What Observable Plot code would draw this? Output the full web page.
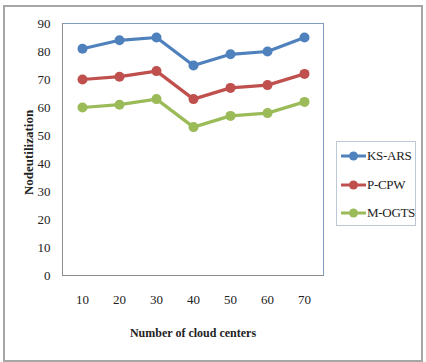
<!DOCTYPE html>
<html>
<head>
<meta charset="utf-8">
<script src="https://cdn.jsdelivr.net/npm/d3@7"></script>
<script src="https://cdn.jsdelivr.net/npm/@observablehq/plot@0.6"></script>
<style>
  html, body { margin: 0; padding: 0; background: #fff; }
  #wrap { position: relative; width: 426px; height: 362px; font-family: 'Liberation Serif', 'Times New Roman', serif; }
  #outer { position: absolute; left: 3px; top: 5px; width: 416px; height: 353px; border: 2px solid #a6a6a6; }
  #chart { position: absolute; left: 0; top: 0; }
  #legend { position: absolute; left: 336px; top: 141px; width: 78px; height: 83px; border: 1px solid #bcc8d6; background: #fff; }
  .item { position: absolute; left: 4px; height: 16px; display: flex; align-items: center; font-size: 13px; color: #222; white-space: nowrap; letter-spacing: -0.3px; font-family: 'Liberation Serif', serif; }
  .item svg { display: block; margin-right: 1px; }
</style>
</head>
<body>
<div id="wrap">
  <div id="outer"></div>
  <div id="chart"></div>
  <div id="legend"></div>
</div>
<script>
// Number of cloud centers on the x axis
const centers = ["10", "20", "30", "40", "50", "60", "70"];
// Node utilization for each scheduling scheme
const ksArs = [81, 84, 85, 75, 79, 80, 85];
const pCpw  = [70, 71, 73, 63, 67, 68, 72];
const mOgts = [60, 61, 63, 53, 57, 58, 62];
const seriesNames = ["KS-ARS", "P-CPW", "M-OGTS"];
const seriesColors = ["#4f81bd", "#c0504d", "#9bbb59"];
const yTicks = [0, 10, 20, 30, 40, 50, 60, 70, 80, 90];

const table = [ksArs, pCpw, mOgts].flatMap((vals, s) =>
  vals.map((v, i) => ({series: seriesNames[s], center: centers[i], value: v}))
);

const fontFamily = "'Liberation Serif', 'Times New Roman', serif";

const chart = Plot.plot({
  width: 426,
  height: 362,
  marginLeft: 62,
  marginRight: 103,
  marginTop: 23,
  marginBottom: 87,
  style: {fontFamily, fontSize: "13px", color: "#222", background: "transparent"},
  x: {type: "point", domain: centers, padding: 0.5, label: null},
  y: {domain: [0, 90], label: null},
  color: {domain: seriesNames, range: seriesColors},
  marks: [
    Plot.frame({stroke: "#7f9cbf", strokeWidth: 1}),
    Plot.frame({anchor: "left", stroke: "#8c8c8c"}),
    Plot.frame({anchor: "bottom", stroke: "#8c8c8c"}),
    Plot.axisY(yTicks, {tickSize: 0, tickPadding: 12, fontSize: 13}),
    Plot.axisX(centers, {tickSize: 0, tickPadding: 19, fontSize: 13}),
    Plot.lineY(table, {x: "center", y: "value", z: "series", stroke: "series", strokeWidth: 3.2}),
    Plot.dot(table, {x: "center", y: "value", fill: "series", r: 5}),
    Plot.text(["Nodeutilization"], {frameAnchor: "left", textAnchor: "middle", dx: -34, dy: 3, rotate: -90, fontWeight: "bold", fontSize: 13}),
    Plot.text(["Number of cloud centers"], {frameAnchor: "bottom", dy: 61, fontWeight: "bold", fontSize: 12})
  ]
});
document.getElementById("chart").appendChild(chart);

// Legend: line-and-marker swatch next to each series name
const legend = document.getElementById("legend");
seriesNames.forEach((name, i) => {
  const item = document.createElement("div");
  item.className = "item";
  item.style.top = (6 + i * 28.5) + "px";
  item.innerHTML =
    `<svg width="25" height="12"><line x1="0" y1="6" x2="25" y2="6" stroke="${seriesColors[i]}" stroke-width="3"/>` +
    `<circle cx="12.5" cy="6" r="4.5" fill="${seriesColors[i]}"/></svg><span>${name}</span>`;
  legend.appendChild(item);
});
</script>
</body>
</html>
